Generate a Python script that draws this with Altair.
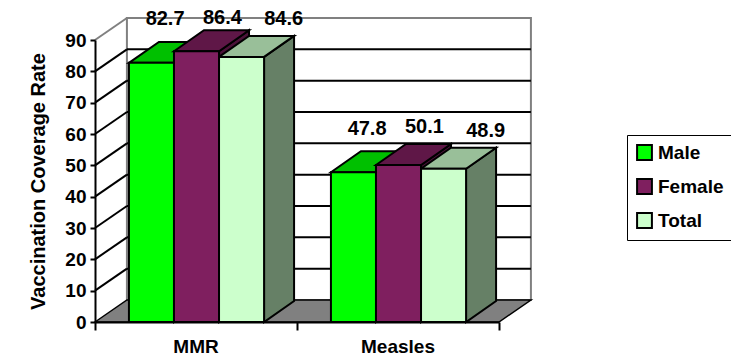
import altair as alt
import pandas as pd

# ---- data -------------------------------------------------------------
categories = ["MMR", "Measles"]
series = ["Male", "Female", "Total"]
male = [82.7, 47.8]
female = [86.4, 50.1]
total = [84.6, 48.9]
y_ticks = [0, 10, 20, 30, 40, 50, 60, 70, 80, 90]

# ---- styling ----------------------------------------------------------
front_colors = ["#00FF00", "#7F1F5F", "#CCFFCC"]
top_colors = ["#00C000", "#5F1747", "#99BF99"]
side_colors = ["#00A000", "#4A1238", "#668066"]
FONT = "Liberation Sans"
EDGE_W = 2

# pseudo-3D geometry, in axis units (one x unit per category group)
GAP = 0.168
BAR_W = 0.223
BAR_DX = 0.1485
BAR_DY = 6.7
WALL_DX = 0.158
WALL_DY = 7.02
Y_MAX = 90
N_GROUPS = len(categories)
LABEL_DX = [0.179, 0.240, 0.320]
LABEL_DY = [13.9, 12.0, 12.1]
LABEL_Y_CAP = 97.0  # keeps value labels inside the top margin

values = {"Male": male, "Female": female, "Total": total}

front_rows, top_rows, side_rows, label_rows = [], [], [], []
for i, cat in enumerate(categories):
    for j, s in enumerate(series):
        v = values[s][i]
        x0 = i + GAP + j * BAR_W
        x1 = x0 + BAR_W
        bar = f"{cat}-{s}"
        front_rows.append(dict(bar=bar, series=s, x0=x0, x1=x1, value=v, base=0))
        top_rows += [
            dict(bar=bar, series=s, x=x0, up=v, lo=v),
            dict(bar=bar, series=s, x=x0 + BAR_DX, up=v + BAR_DY, lo=v),
            dict(bar=bar, series=s, x=x1, up=v + BAR_DY, lo=v),
            dict(bar=bar, series=s, x=x1 + BAR_DX, up=v + BAR_DY, lo=v + BAR_DY),
        ]
        side_rows += [
            dict(bar=bar, series=s, x=x1, up=v, lo=0),
            dict(bar=bar, series=s, x=x1 + BAR_DX, up=v + BAR_DY, lo=BAR_DY),
        ]
        label_rows.append(dict(series=s, x=x0 + LABEL_DX[j],
                               y=min(v + LABEL_DY[j], LABEL_Y_CAP),
                               text=f"{v:.1f}"))

front_df = pd.DataFrame(front_rows)
top_df = pd.DataFrame(top_rows)
side_df = pd.DataFrame(side_rows)
label_df = pd.DataFrame(label_rows)
cat_df = pd.DataFrame({"category": categories,
                       "xc": [i + 0.5 for i in range(N_GROUPS)]})

grid_df = pd.DataFrame({"t": [t for t in y_ticks if 0 < t < Y_MAX]})
grid_df["tb"] = grid_df["t"] + WALL_DY
grid_df["xa"] = 0.0
grid_df["xb"] = WALL_DX
grid_df["xe"] = N_GROUPS + WALL_DX

wall_df = pd.DataFrame([dict(x0=WALL_DX, x1=N_GROUPS + WALL_DX,
                             y0=WALL_DY, y1=Y_MAX + WALL_DY)])
edge_df = pd.DataFrame([dict(x0=0.0, x1=WALL_DX, y0=Y_MAX, y1=Y_MAX + WALL_DY)])
floor_df = pd.DataFrame([
    dict(part="floor", x=0.0, up=0.0, lo=0.0),
    dict(part="floor", x=WALL_DX, up=WALL_DY, lo=0.0),
    dict(part="floor", x=float(N_GROUPS), up=WALL_DY, lo=0.0),
    dict(part="floor", x=N_GROUPS + WALL_DX, up=WALL_DY, lo=WALL_DY),
])

# ---- scales & axes ----------------------------------------------------
xs = alt.Scale(domain=[0, N_GROUPS], nice=False, zero=False)
ys = alt.Scale(domain=[0, Y_MAX], nice=False)
x_axis = alt.Axis(values=list(range(N_GROUPS + 1)), labels=False, title=None,
                  tickSize=8, tickWidth=2, tickColor="black", domainColor="black",
                  domainWidth=2, grid=False, zindex=1)
y_axis = alt.Axis(values=y_ticks, title="Vaccination Coverage Rate", tickSize=5,
                  tickWidth=2, tickColor="black", domainColor="black", domainWidth=2,
                  grid=False, labelFont=FONT, labelFontSize=19, labelFontWeight="bold",
                  labelColor="black", labelPadding=4, titleFont=FONT, titleFontSize=20,
                  titleFontWeight="bold", titleColor="black", titlePadding=16, zindex=1)


def X(field):
    return alt.X(field, type="quantitative", scale=xs, axis=x_axis)


def Y(field):
    return alt.Y(field, type="quantitative", scale=ys, axis=y_axis, stack=None)


def faces(df, colors):
    """Filled parallelograms: one closed area per bar, traced along x."""
    return alt.Chart(df).mark_area(
        orient="vertical", interpolate="linear", stroke="black",
        strokeWidth=EDGE_W, fillOpacity=1,
    ).encode(
        x=X("x"), y=Y("up"), y2="lo", detail="bar:N",
        fill=alt.Fill("series:N", scale=alt.Scale(domain=series, range=colors),
                      legend=None),
    )


# ---- walls & floor ----------------------------------------------------
back_wall = alt.Chart(wall_df).mark_rect(fill="white", stroke="#808080",
                                         strokeWidth=2).encode(
    x=X("x0"), x2="x1", y=Y("y0"), y2="y1")

back_grid = alt.Chart(grid_df).mark_rule(color="black", strokeWidth=2).encode(
    x=X("xb"), x2="xe", y=Y("tb"))

side_grid = alt.Chart(grid_df).mark_rule(color="black", strokeWidth=2).encode(
    x=X("xa"), x2="xb", y=Y("t"), y2="tb")

top_edge = alt.Chart(edge_df).mark_rule(color="#808080", strokeWidth=2).encode(
    x=X("x0"), x2="x1", y=Y("y0"), y2="y1")

floor = alt.Chart(floor_df).mark_area(
    orient="vertical", interpolate="linear", fill="#808080", stroke="black",
    strokeWidth=1.5, fillOpacity=1,
).encode(x=X("x"), y=Y("up"), y2="lo", detail="part:N")

# ---- bars -------------------------------------------------------------
sides = faces(side_df, side_colors)
tops = faces(top_df, top_colors)

fronts = alt.Chart(front_df).mark_rect(stroke="black", strokeWidth=EDGE_W).encode(
    x=X("x0"), x2="x1", y=Y("value"), y2="base",
    fill=alt.Fill("series:N", sort=series,
                  scale=alt.Scale(domain=series, range=front_colors),
                  legend=alt.Legend(title=None)))

labels = alt.Chart(label_df).mark_text(font=FONT, fontSize=20, fontWeight="bold",
                                       color="black", baseline="middle").encode(
    x=X("x"), y=Y("y"), text="text:N")

cat_labels = alt.Chart(cat_df).mark_text(font=FONT, fontSize=19, fontWeight="bold",
                                         color="black", baseline="middle").encode(
    x=X("xc"), y=alt.value(307), text="category:N")

chart = alt.layer(
    back_wall, back_grid, side_grid, top_edge, floor, sides, tops, fronts,
    labels, cat_labels,
).resolve_scale(fill="independent").properties(
    width=404, height=282,
    autosize=alt.AutoSizeParams(type="none"),
    padding={"left": 95, "top": 40, "right": 232, "bottom": 36},
    background="white",
).configure_view(strokeWidth=0).configure_legend(
    orient="none", legendX=532, legendY=95, strokeColor="black", padding=8,
    symbolType="square", symbolSize=220, symbolStrokeColor="black",
    symbolStrokeWidth=2, labelFont=FONT, labelFontSize=19, labelFontWeight="bold",
    labelColor="black", rowPadding=11, labelOffset=4,
)

chart.save("out.html", embed_options={"renderer": "svg", "actions": False})
